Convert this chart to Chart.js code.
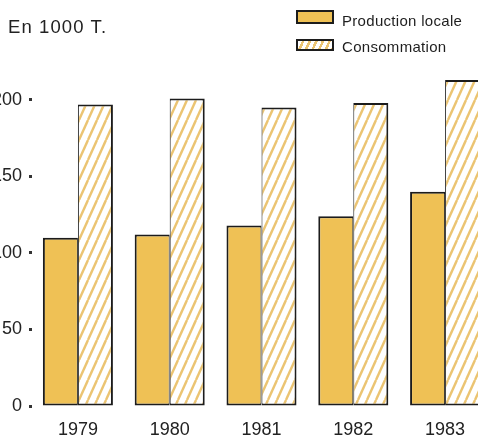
<!DOCTYPE html>
<html><head><meta charset="utf-8">
<script src="https://cdn.jsdelivr.net/npm/chart.js@4.4.1/dist/chart.umd.min.js"></script>
<style>
html,body{margin:0;padding:0;width:478px;height:436px;overflow:hidden;background:#fff;font-family:"Liberation Sans",Arial,sans-serif;color:#222}
#wrap{position:absolute;left:-20px;top:0;width:520px;height:436px}
#title{position:absolute;left:8px;top:16px;font-size:18.5px;letter-spacing:1.1px;line-height:22px;white-space:nowrap}
.sw{position:absolute;left:296px;width:35px;box-sizing:border-box;border:2px solid #1c1c1c}
.lt{position:absolute;left:342px;font-size:15px;letter-spacing:0.3px;line-height:16px;white-space:nowrap;color:#1e1e1e}
</style></head>
<body>
<div id="wrap"><canvas id="c"></canvas></div>
<div id="title"></div>
<div id="legend"></div>
<script>
const years = ['1979', '1980', '1981', '1982', '1983'];
const productionLocale = [110, 112, 118, 124, 140];
const consommation = [197, 201, 195, 198, 213];
const seriesNames = ['Production locale', 'Consommation'];
const unitLabel = 'En 1000 T.';

const PROD_COLOR = '#EFC155';
const STRIPE_COLOR = '#EBC472';
const EDGE = '#1c1c1c';
const FONT = '"Liberation Sans", Arial, sans-serif';

document.getElementById('title').textContent = unitLabel;

// hatched pattern
const canvas = document.getElementById('c');
const ctx = canvas.getContext('2d');
const tile = document.createElement('canvas');
tile.width = 9; tile.height = 20;
const tctx = tile.getContext('2d');
tctx.fillStyle = '#fff';
tctx.fillRect(0, 0, 9, 20);
tctx.strokeStyle = STRIPE_COLOR;
tctx.lineWidth = 2.4;
for (let k = -1; k <= 1; k++) {
  tctx.beginPath();
  tctx.moveTo(k * 9, 20);
  tctx.lineTo(k * 9 + 9, 0);
  tctx.stroke();
}
const hatch = ctx.createPattern(tile, 'repeat');

// HTML legend built from series names
const legend = document.getElementById('legend');
const legendRows = [
  {swTop: 10, swH: 14, txtTop: 13, bg: PROD_COLOR},
  {swTop: 39, swH: 12, txtTop: 39, bg: 'repeating-linear-gradient(115deg, #fff 0 3.5px, ' + STRIPE_COLOR + ' 3.5px 6px)'}
];
seriesNames.forEach((name, i) => {
  const r = legendRows[i];
  const sw = document.createElement('div');
  sw.className = 'sw';
  sw.style.top = r.swTop + 'px';
  sw.style.height = r.swH + 'px';
  sw.style.width = '38px';
  sw.style.background = r.bg;
  legend.appendChild(sw);
  const t = document.createElement('div');
  t.className = 'lt';
  t.style.top = r.txtTop + 'px';
  t.textContent = name;
  legend.appendChild(t);
});

new Chart(ctx, {
  type: 'bar',
  data: {
    labels: years,
    datasets: [
      {label: seriesNames[0], data: productionLocale, backgroundColor: PROD_COLOR, borderColor: EDGE,
       borderWidth: {top: 2, left: 2, bottom: 2, right: 1}, borderSkipped: false},
      {label: seriesNames[1], data: consommation, backgroundColor: hatch, borderColor: EDGE,
       borderWidth: {top: 2, left: 1, bottom: 2, right: 2}, borderSkipped: false}
    ]
  },
  options: {
    responsive: true,
    maintainAspectRatio: false,
    animation: false,
    layout: {padding: {top: 77, right: 9, bottom: 0, left: 0}},
    datasets: {bar: {categoryPercentage: 0.763, barPercentage: 1}},
    plugins: {legend: {display: false}, title: {display: false}, tooltip: {enabled: false}},
    scales: {
      x: {
        grid: {display: false}, border: {display: false},
        ticks: {color: '#222', font: {family: FONT, size: 18}, padding: 5, maxRotation: 0},
        afterFit(s) { s.height = 30; }
      },
      y: {
        min: 0, max: 215,
        ticks: {stepSize: 50, includeBounds: false, padding: 7, color: '#222', font: {family: FONT, size: 18}},
        grid: {drawOnChartArea: false, drawTicks: true, tickLength: 3, tickWidth: 3, color: '#333'},
        border: {display: false},
        afterFit(s) { s.width = 52; }
      }
    }
  }
});
</script>
</body></html>
